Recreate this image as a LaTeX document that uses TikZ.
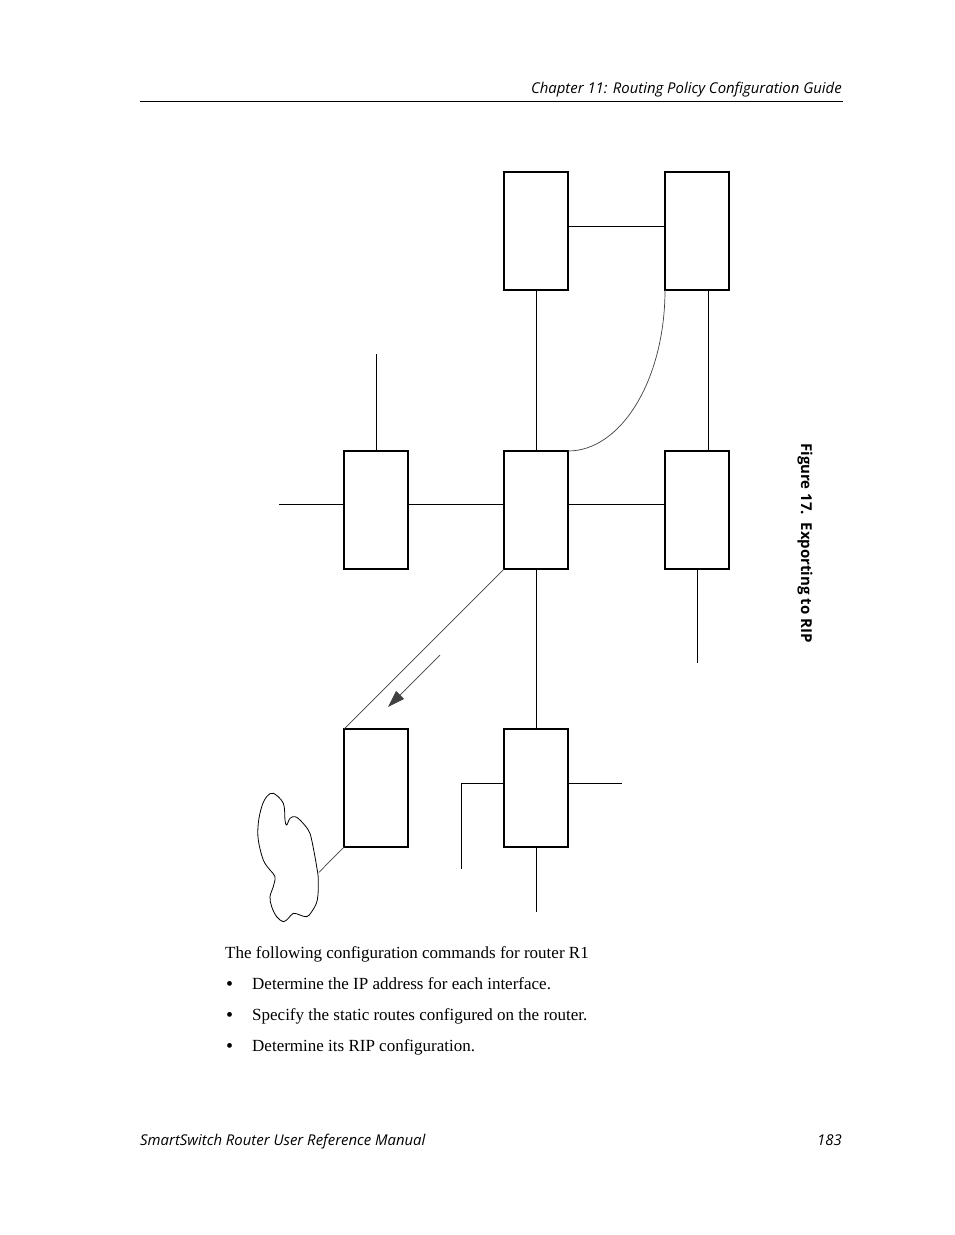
\documentclass[tikz,border=0pt]{standalone}
\usepackage{fontspec}
\setmainfont{Liberation Serif}
\newfontfamily\hdrfont{Open Sans}
\usetikzlibrary{arrows.meta}
\begin{document}
\begin{tikzpicture}[x=1pt,y=-1pt,
  box/.style={draw, line width=1.4pt, minimum width=64pt, minimum height=118pt, inner sep=0pt, outer sep=0pt},
  wire/.style={line width=1pt},
  thinwire/.style={line width=0.7pt, black!75},
  hdr/.style={font=\hdrfont\itshape\fontsize{14.9}{17}\selectfont, inner sep=0pt},
  body/.style={font=\fontsize{17}{20}\selectfont, inner sep=0pt, anchor=base west},
  bul/.style={font=\fontsize{20}{20}\selectfont, inner sep=0pt, anchor=base west}]
\fill[white] (0,0) rectangle (954,1235);
\useasboundingbox (0,0) rectangle (954,1235);
% header
\node[hdr, anchor=base east] (hd) at (842,93) {Chapter 11: Routing Policy Configuration Guide};
\coordinate (rl) at (140,101);
\coordinate (rr) at (843,101);
\draw[line width=1pt] (rl) -- (rr);
% boxes
\node[box] (A) at (536,231) {};
\node[box] (B) at (697,231) {};
\node[box] (C) at (376,510) {};
\node[box] (D) at (536,510) {};
\node[box] (E) at (697,510) {};
\node[box] (F) at (376,788) {};
\node[box] (G) at (536,788) {};
% free ends
\coordinate (c1) at (376,354);
\coordinate (c2) at (279,504);
\coordinate (e1) at (697,663);
\coordinate (g1) at (461,783);
\coordinate (g2) at (461,869);
\coordinate (g3) at (622,783);
\coordinate (g4) at (536,912);
\coordinate (k1) at (319,872.3);
\coordinate (ar1) at (440,655);
\coordinate (ar2) at (388,707);
% connectors
\draw[wire] ([yshift=5pt]A.east) -- ([yshift=5pt]B.west);
\draw[wire] (A.south) -- (D.north);
\draw[wire] ([xshift=11pt]B.south) -- ([xshift=11pt]E.north);
\draw[thinwire] (B.south west) .. controls +(0,89) and +(53.5,0) .. (D.north east);
\draw[wire] ([yshift=6pt]C.east) -- ([yshift=6pt]D.west);
\draw[wire] ([yshift=6pt]D.east) -- ([yshift=6pt]E.west);
\draw[wire] (C.north) -- (c1);
\draw[wire] ([yshift=6pt]C.west) -- (c2);
\draw[wire] (E.south) -- (e1);
\draw[wire] (D.south) -- (G.north);
\draw[thinwire] (D.south west) -- (F.north west);
\draw[thinwire, -{Triangle[length=17pt,width=11pt]}] (ar1) -- (ar2);
\draw[wire] ([yshift=5pt]G.west) -- (g1) -- (g2);
\draw[wire] ([yshift=5pt]G.east) -- (g3);
\draw[wire] (G.south) -- (g4);
\draw[thinwire] (F.south west) -- (k1);
% cloud
\draw[line width=0.8pt] plot[smooth cycle, tension=0.6] coordinates {
 (273.3,793.3) (283.3,803.3) (285,820) (286.7,825) (290,818.3) (295,816.7)
 (300,820) (308.3,830) (311.7,840) (316.7,866.7) (318.3,880) (317.3,900)
 (311.7,911.7) (306.7,916.7) (300,915) (293.3,913.3) (288.3,918.3)
 (283.3,921.7) (276.7,916.7) (271.7,906.7) (270,896.7) (273.3,886.7)
 (275,876.7) (270,870) (263.3,860) (258.3,840) (258.3,823.3) (261.7,806.7)
 (266.7,796.7)};
% caption
\node[rotate=-90, inner sep=0pt, font=\hdrfont\bfseries\fontsize{15}{17}\selectfont] (cap) at (805,543) {Figure 17.\ \ Exporting to RIP};
% body
\node[body] (t0) at (225,958) {The following configuration commands for router R1};
\node[bul] (b1) at (226,990) {\textbullet};
\node[body] (t1) at (252,989) {Determine the IP address for each interface.};
\node[bul] (b2) at (226,1021) {\textbullet};
\node[body] (t2) at (252,1020) {Specify the static routes configured on the router.};
\node[bul] (b3) at (226,1052) {\textbullet};
\node[body] (t3) at (252,1051) {Determine its RIP configuration.};
% footer
\node[hdr, anchor=base west] (f1) at (140,1145) {SmartSwitch Router User Reference Manual};
\node[hdr, anchor=base east] (f2) at (842,1145) {183};
\end{tikzpicture}
\end{document}
